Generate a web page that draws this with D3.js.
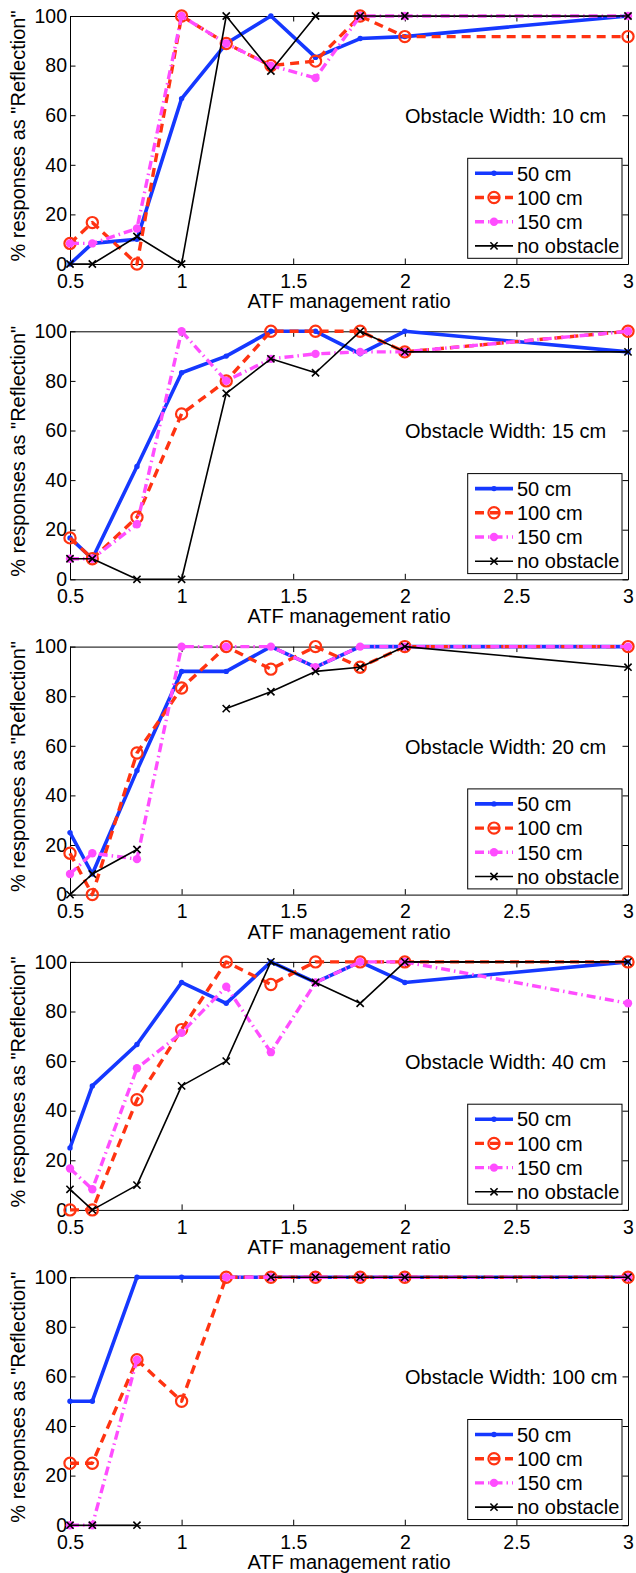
<!DOCTYPE html>
<html>
<head>
<meta charset="utf-8">
<script src="https://cdn.jsdelivr.net/npm/d3@7"></script>
<style>
  body { margin: 0; background: #fff; }
  svg { display: block; }
  text { font-family: "Liberation Sans", Arial, Helvetica, sans-serif; fill: #000; }
</style>
</head>
<body>
<svg id="chart" width="636" height="1573"></svg>
<script>
// ATF management ratios tested (x values)
const ratios = [0.5, 0.6, 0.8, 1.0, 1.2, 1.4, 1.6, 1.8, 2.0, 3.0];
const xTicks = [0.5, 1, 1.5, 2, 2.5, 3];
const yTicks = [0, 20, 40, 60, 80, 100];
const obstacleWidths = ["10 cm", "15 cm", "20 cm", "40 cm", "100 cm"];
const seriesNames = ["50 cm", "100 cm", "150 cm", "no obstacle"];
const N = null; // condition not measured

// % of responses judged as "Reflection", obstacle width 10 cm
const w10_d50   = [0, 8.3, 10, 66.7, 88.9, 100, 83.3, 90.9, 91.7, 100];
const w10_d100  = [8.3, 16.7, 0, 100, 88.9, 80, 81.8, 100, 91.7, 91.7];
const w10_d150  = [8.3, 8.3, 14.3, 100, 88.9, 80, 75, 100, 100, 100];
const w10_none  = [0, 0, 11.1, 0, 100, 77.8, 100, 100, 100, 100];
// obstacle width 15 cm
const w15_d50   = [16.7, 8.3, 45.5, 83.3, 90, 100, 100, 90.9, 100, 91.7];
const w15_d100  = [16.7, 8.3, 25, 66.7, 80, 100, 100, 100, 91.7, 100];
const w15_d150  = [8.3, 8.3, 22.2, 100, 80, 88.9, 90.9, 91.7, 91.7, 100];
const w15_none  = [8.3, 8.3, 0, 0, 75, 88.9, 83.3, 100, 91.7, 91.7];
// obstacle width 20 cm
const w20_d50   = [25, 8.3, 50, 90, 90, 100, 91.7, 100, 100, 100];
const w20_d100  = [16.7, 0, 57.1, 83.3, 100, 90.9, 100, 91.7, 100, 100];
const w20_d150  = [8.3, 16.7, 14.3, 100, 100, 100, 91.7, 100, 100, 100];
const w20_none  = [0, 8.3, 18.2, N, 75, 81.8, 90, 91.7, 100, 91.7];
// obstacle width 40 cm
const w40_d50   = [25, 50, 66.7, 91.7, 83.3, 100, 91.7, 100, 91.7, 100];
const w40_d100  = [0, 0, 44.4, 72.7, 100, 90.9, 100, 100, 100, 100];
const w40_d150  = [16.7, 8.3, 57.1, 71.4, 90, 63.6, 91.7, 100, 100, 83.3];
const w40_none  = [8.3, 0, 10, 50, 60, 100, 91.7, 83.3, 100, 100];
// obstacle width 100 cm
const w100_d50  = [50, 50, 100, 100, 100, 100, 100, 100, 100, 100];
const w100_d100 = [25, 25, 66.7, 50, 100, 100, 100, 100, 100, 100];
const w100_d150 = [0, 0, 66.7, N, 100, 100, 100, 100, 100, 100];
const w100_none = [0, 0, 0, N, N, 100, 100, 100, 100, 100];

const panelData = [
  [w10_d50, w10_d100, w10_d150, w10_none],
  [w15_d50, w15_d100, w15_d150, w15_none],
  [w20_d50, w20_d100, w20_d150, w20_none],
  [w40_d50, w40_d100, w40_d150, w40_none],
  [w100_d50, w100_d100, w100_d150, w100_none]
];

// visual style of each series
const styles = [
  { color: "#1538ff", width: 3.6, dash: null,          marker: "dot" },
  { color: "#ff3311", width: 3.4, dash: "9,6",         marker: "ring" },
  { color: "#ff4dff", width: 3.4, dash: "9,4,1.5,4",   marker: "disc" },
  { color: "#000000", width: 1.6, dash: null,          marker: "cross" }
];

const svg = d3.select("#chart");
const left = 70, right = 628, plotH = 248, firstTop = 16, step = 315.3;
const tick = 5.5;

const x = d3.scaleLinear().domain([0.5, 3]).range([left, right]);

function drawMarker(g, s, cx, cy) {
  if (s.marker === "dot") {
    g.append("circle").attr("cx", cx).attr("cy", cy).attr("r", 2.7).attr("fill", s.color);
  } else if (s.marker === "ring") {
    g.append("circle").attr("cx", cx).attr("cy", cy).attr("r", 5.6)
      .attr("fill", "none").attr("stroke", s.color).attr("stroke-width", 2.2);
  } else if (s.marker === "disc") {
    g.append("circle").attr("cx", cx).attr("cy", cy).attr("r", 4.2).attr("fill", s.color);
  } else {
    const d = 3.6;
    g.append("path")
      .attr("d", `M${cx - d},${cy - d}L${cx + d},${cy + d}M${cx - d},${cy + d}L${cx + d},${cy - d}`)
      .attr("stroke", s.color).attr("stroke-width", 1.6).attr("fill", "none");
  }
}

panelData.forEach((series, p) => {
  const top = firstTop + p * step;
  const bottom = top + plotH;
  const y = d3.scaleLinear().domain([0, 100]).range([bottom, top]);
  const g = svg.append("g");

  // axes with inward ticks on all four sides
  const fmt = d => String(d);
  g.append("g").attr("transform", `translate(0,${bottom})`)
    .call(d3.axisBottom(x).tickValues(xTicks).tickFormat(fmt).tickSize(-tick).tickSizeOuter(0).tickPadding(10));
  g.append("g").attr("transform", `translate(0,${top})`)
    .call(d3.axisTop(x).tickValues(xTicks).tickFormat("").tickSize(-tick).tickSizeOuter(0));
  g.append("g").attr("transform", `translate(${left},0)`)
    .call(d3.axisLeft(y).tickValues(yTicks).tickFormat(fmt).tickSize(-tick).tickSizeOuter(0).tickPadding(3));
  g.append("g").attr("transform", `translate(${right},0)`)
    .call(d3.axisRight(y).tickValues(yTicks).tickFormat("").tickSize(-tick).tickSizeOuter(0));
  g.selectAll(".tick text").style("font-size", "19.5px").style("font-family", '"Liberation Sans", Arial, sans-serif');
  g.selectAll(".domain, .tick line").attr("stroke", "#000").attr("stroke-width", 1);

  // data lines
  const line = d3.line().defined(d => d[1] !== null).x(d => x(d[0])).y(d => y(d[1]));
  const marks = g.append("g");
  series.forEach((vals, i) => {
    const s = styles[i];
    const pts = ratios.map((r, k) => [r, vals[k]]);
    const sg = marks.append("g");
    sg.append("path").datum(pts).attr("d", line)
      .attr("fill", "none").attr("stroke", s.color).attr("stroke-width", s.width)
      .attr("stroke-dasharray", s.dash).attr("stroke-linejoin", "round");
    pts.filter(d => d[1] !== null).forEach(d => drawMarker(sg, s, x(d[0]), y(d[1])));
  });

  // panel annotation
  g.append("text").attr("x", 405).attr("y", top + 107).style("font-size", "20px")
    .text(`Obstacle Width: ${obstacleWidths[p]}`);

  // legend
  const lg = g.append("g");
  lg.append("rect").attr("x", 467.7).attr("y", top + 142.3).attr("width", 154.3).attr("height", 100)
    .attr("fill", "#fff").attr("stroke", "#000").attr("stroke-width", 1);
  seriesNames.forEach((name, i) => {
    const s = styles[i];
    const ry = top + 157.3 + i * 24.2;
    lg.append("line").attr("x1", 475).attr("x2", 513).attr("y1", ry).attr("y2", ry)
      .attr("stroke", s.color).attr("stroke-width", s.width).attr("stroke-dasharray", s.dash);
    drawMarker(lg, s, 494, ry);
    lg.append("text").attr("x", 517).attr("y", ry).attr("dy", "0.36em").style("font-size", "20px").text(name);
  });

  // axis titles
  g.append("text").attr("x", (left + right) / 2).attr("y", bottom + 44)
    .attr("text-anchor", "middle").style("font-size", "20px").text("ATF management ratio");
  g.append("text").attr("transform", `translate(25,${top + plotH / 2 - 4}) rotate(-90)`)
    .attr("text-anchor", "middle").style("font-size", "20px").text('% responses as "Reflection"');
});
</script>
</body>
</html>
